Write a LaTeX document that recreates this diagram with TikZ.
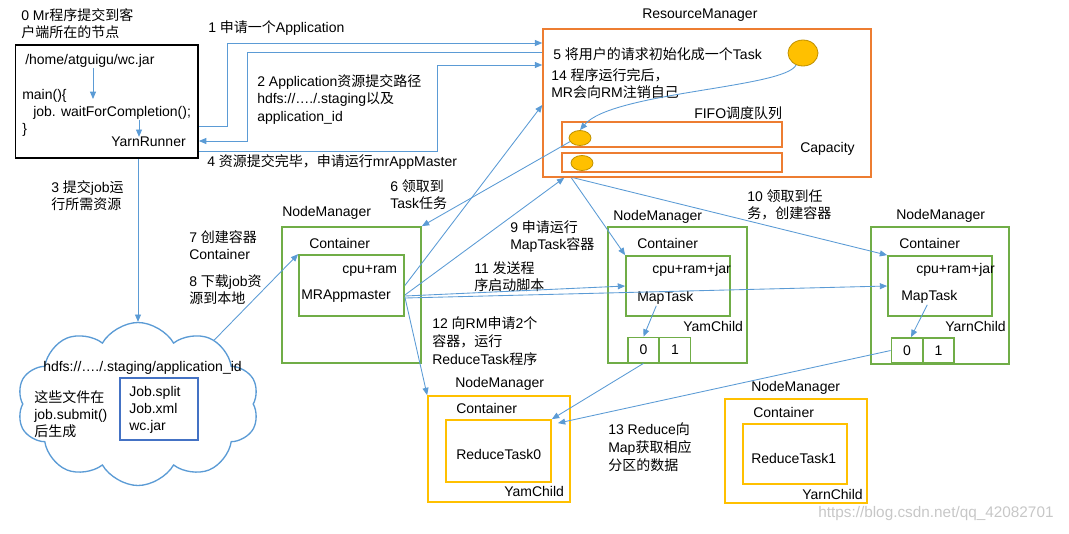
\documentclass[tikz,border=0pt]{standalone}
\usepackage{fontspec}
\setmainfont{Liberation Sans}
\newfontfamily\cjkfont{Noto Sans CJK SC}
\usetikzlibrary{arrows.meta,shapes.symbols,shapes.geometric,fit,calc}

\XeTeXinterchartokenstate=1
\newXeTeXintercharclass\cjkcls
\newcount\cjkc
\cjkc="3000 \loop\XeTeXcharclass\cjkc=\cjkcls \advance\cjkc by 1 \ifnum\cjkc<"3040 \repeat
\cjkc="4E00 \loop\XeTeXcharclass\cjkc=\cjkcls \advance\cjkc by 1 \ifnum\cjkc<"A000 \repeat
\cjkc="FF00 \loop\XeTeXcharclass\cjkc=\cjkcls \advance\cjkc by 1 \ifnum\cjkc<"FFF0 \repeat
\XeTeXinterchartoks 0 \cjkcls={\cjkfont}
\XeTeXinterchartoks 4095 \cjkcls={\cjkfont}
\XeTeXinterchartoks \cjkcls 0={\rmfamily}
\XeTeXinterchartoks \cjkcls 4095={\rmfamily}

\definecolor{lblue}{HTML}{5B9BD5}
\definecolor{rmorange}{HTML}{ED7D31}
\definecolor{nmgreen}{HTML}{70AD47}
\definecolor{ygold}{HTML}{FFC000}
\definecolor{dgold}{HTML}{BF9000}
\definecolor{boxblue}{HTML}{4472C4}

\begin{document}
\begin{tikzpicture}[x=0.75pt,y=-0.75pt,
  font=\fontsize{10.5}{12.8}\selectfont,
  txt/.style={anchor=west,inner sep=0pt,align=left},
  conn/.style={draw=lblue,line width=0.65pt},
  arr/.style={conn,-{Triangle[length=5.5pt,width=4.5pt]}},
  boxline/.style={inner sep=0pt,line width=1.3pt},
  gbox/.style={boxline,draw=nmgreen},
  ybox/.style={boxline,draw=ygold},
  obox/.style={boxline,draw=rmorange,line width=1.1pt},
  cell/.style={draw=nmgreen,line width=1.3pt,minimum width=23.25pt,minimum height=18.75pt,inner sep=0pt},
  egg/.style={ellipse,fill=ygold,draw=dgold,line width=0.6pt,inner sep=0pt},
  ]
\useasboundingbox (0,0) rectangle (1069,533);

% ---------- client ----------
\node[txt] (t0) at (21,23.5) {0 Mr程序提交到客\\户端所在的节点};
\node[boxline,draw=black,line width=1.4pt,fit={(15.5,45) (198,158)}] (client) {};
\node[txt] (jar) at (25,61) {/home/atguigu/wc.jar};
\node[txt] (main) at (22,96) {main()\{};
\node[txt] (wfc) at (33,113) {job. waitForCompletion();};
\node[txt] (cb) at (22,130) {\}};
\node[txt] (yr) at (111,142) {YarnRunner};
\coordinate (m1) at (93,99);
\draw[arr] (jar.south -| m1) -- (m1);
\draw[arr] (wfc.south -| 139,0) -- (yr.north -| 139,0);

% ---------- resource manager ----------
\node[txt] (rmlab) at (642,15) {ResourceManager};
\node[obox,fit={(543,29) (871,177)}] (rm) {};
\node[txt] (t5) at (553,54) {5 将用户的请求初始化成一个Task};
\node[egg,minimum width=22.5pt,minimum height=19.5pt] (big) at (803,53) {};
\node[txt] (t14) at (551,84) {14 程序运行完后，\\MR会向RM注销自己};
\node[txt] (fifo) at (694,113) {FIFO调度队列};
\node[obox,line width=1.3pt,fit={(562,122) (782,147)}] (q1) {};
\node[obox,line width=1.3pt,fit={(562,153) (782,172)}] (q2) {};
\node[egg,minimum width=16.5pt,minimum height=11.25pt] (q1e) at (580,138) {};
\node[egg,minimum width=16.5pt,minimum height=11.25pt] (q2e) at (582,163) {};
\node[txt] (cap) at (800,149) {Capacity};
\draw[arr] (big.240) .. controls (785,88) and (612,92) .. (q1e.north);

% ---------- labels of steps ----------
\node[txt] (t1) at (208,28) {1 申请一个Application};
\node[txt,font=\fontsize{10.5}{13.1}\selectfont] (t2) at (257,99.5) {2 Application资源提交路径\\hdfs://…./.staging以及\\application\_id};
\node[txt] (t4) at (207,162) {4 资源提交完毕，申请运行mrAppMaster};
\node[txt] (t3) at (51,195.5) {3 提交job运\\行所需资源};
\node[txt] (t6) at (390,195) {6 领取到\\Task任务};
\node[txt] (t7) at (189,245.5) {7 创建容器\\Container};
\node[txt] (t8) at (189,290) {8 下载job资\\源到本地};
\node[txt] (t9) at (510,236.5) {9 申请运行\\MapTask容器};
\node[txt] (t10) at (747,205) {10 领取到任\\务，创建容器};
\node[txt] (t11) at (474,277) {11 发送程\\序启动脚本};
\node[txt,font=\fontsize{10.5}{13.5}\selectfont] (t12) at (432,341.5) {12 向RM申请2个\\容器，运行\\ReduceTask程序};
\node[txt,font=\fontsize{10.5}{13.5}\selectfont] (t13) at (608,447) {13 Reduce向\\Map获取相应\\分区的数据};

% ---------- cloud ----------
\node[cloud,draw=lblue,line width=1pt,cloud puffs=10,cloud puff arc=120,cloud ignores aspect,
      minimum width=181.5pt,minimum height=122.25pt,inner sep=0pt] (cloud) at (138,404) {};
\node[txt] (hdfs) at (43,368) {hdfs://…./.staging/application\_id};
\node[txt] (gen) at (34,414) {这些文件在\\job.submit()\\后生成};
\node[boxline,draw=boxblue,line width=1pt,fit={(120,378) (198,440)}] (files) {};
\node[txt] (flist) at (129,410) {Job.split\\Job.xml\\wc.jar};

% ---------- NodeManager 1 ----------
\node[txt] (nm1lab) at (282,213) {NodeManager};
\node[gbox,fit={(282,227) (421,363)}] (nm1) {};
\node[txt] (c1lab) at (309,243) {Container};
\node[gbox,fit={(299,255) (404,316)}] (nm1in) {};
\node[txt] (cr1) at (342,271) {cpu+ram};
\node[txt] (amin) at (301,296) {MRAppmaster};

% ---------- NodeManager 2 ----------
\node[txt] (nm2lab) at (613,217) {NodeManager};
\node[gbox,fit={(608,227) (747,363)}] (nm2) {};
\node[txt] (c2lab) at (637,243) {Container};
\node[gbox,fit={(626,256) (730,316)}] (nm2in) {};
\node[txt] (cr2) at (652,270) {cpu+ram+jar};
\node[txt] (mt2) at (637,298) {MapTask};
\node[txt] (yc2) at (683,326) {YamChild};
\node[cell] (c20) at (643.5,350) {0};
\node[cell] (c21) at (675,350) {1};

% ---------- NodeManager 3 ----------
\node[txt] (nm3lab) at (896,216) {NodeManager};
\node[gbox,fit={(871,227) (1009,364)}] (nm3) {};
\node[txt] (c3lab) at (899,243) {Container};
\node[gbox,fit={(888,256) (992,316)}] (nm3in) {};
\node[txt] (cr3) at (916,270) {cpu+ram+jar};
\node[txt] (mt3) at (901,297) {MapTask};
\node[txt] (yc3) at (945,326) {YarnChild};
\node[cell] (c30) at (907,350.5) {0};
\node[cell] (c31) at (938.5,350.5) {1};

% ---------- NodeManager 4 (reduce 0) ----------
\node[txt] (nm4lab) at (455,384) {NodeManager};
\node[ybox,fit={(428,396) (570,502)}] (nm4) {};
\node[txt] (c4lab) at (456,408) {Container};
\node[ybox,fit={(446,420) (551,482)}] (nm4in) {};
\node[txt] (rt0) at (456,454) {ReduceTask0};
\node[txt] (yc4) at (504,491) {YamChild};

% ---------- NodeManager 5 (reduce 1) ----------
\node[txt] (nm5lab) at (751,388) {NodeManager};
\node[ybox,fit={(725,399) (867,503)}] (nm5) {};
\node[txt] (c5lab) at (753,412) {Container};
\node[ybox,fit={(743,424) (847,484)}] (nm5in) {};
\node[txt] (rt1) at (751,458) {ReduceTask1};
\node[txt] (yc5) at (802,494) {YarnChild};

% ---------- connectors ----------
\draw[arr] (client.east |- 0,126) -- (227,126) -- (227,43) -- (rm.west |- 0,43);
\draw[arr] (rm.west |- 0,52) -- (247,52) -- (247,141) -- (client.east |- 0,141);
\draw[arr] (client.east |- 0,151) -- (437,151) -- (437,65) -- (rm.west |- 0,65);
\draw[arr] (client.south -| 138,0) -- (cloud.north);
\draw[arr] (cloud.40) -- (nm1in.north west);
\draw[arr] (q1e.200) -- (nm1.north east);
\draw[arr] (nm1in.east) -- (rm.west |- 0,105);
\draw[arr] (nm1in.east |- 0,295) -- ($(rm.south west)+(22,0)$);
\draw[arr] ($(rm.south west)+(29,0)$) -- (nm2in.north west);
\draw[arr] ($(rm.south west)+(31,0)$) -- (nm3in.north west);
\draw[arr] (nm1in.east |- 0,296) -- (nm2in.west);
\draw[arr] (nm1in.east |- 0,298) -- (nm3in.west);
\draw[arr] (nm1in.east |- 0,297) -- (nm4.north west);
\draw[arr] ($(mt2.south)+(-9,1)$) -- (c20.north);
\draw[arr] ($(mt3.south)+(-2,1)$) -- ($(c30.north)+(4,0)$);
\draw[arr] (c20.south) -- (nm4in.north east);
\draw[arr] (c30.west) -- ($(nm4in.north east)+(6,4)$);

% ---------- watermark ----------
\node[txt,text=black!22,font=\fontsize{11.5}{13}\selectfont] (wm) at (818,514) {https://blog.csdn.net/qq\_42082701};
\end{tikzpicture}
\end{document}
